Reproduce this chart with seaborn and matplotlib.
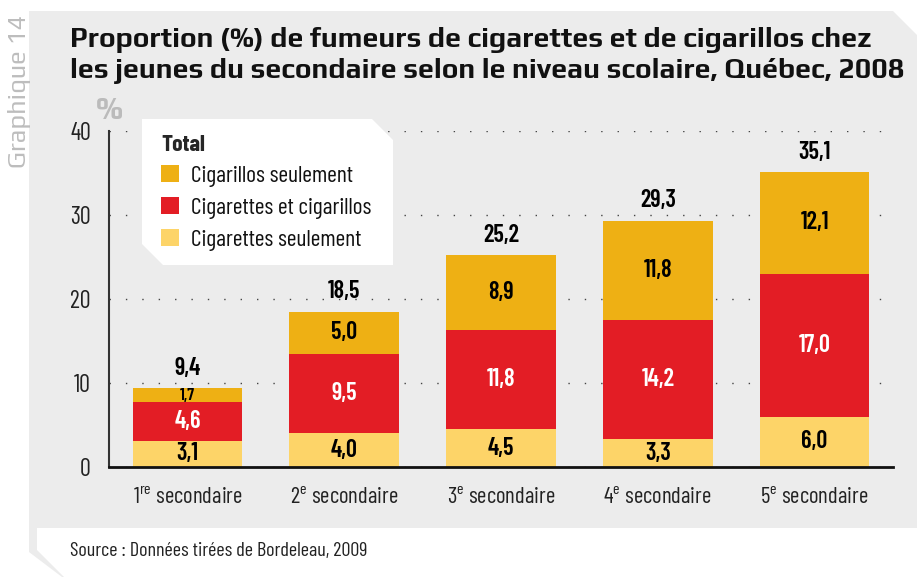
import matplotlib
matplotlib.use('Agg')
import matplotlib.pyplot as plt
import seaborn as sns
from matplotlib import font_manager
from matplotlib.patches import Polygon

# données (Bordeleau, 2009)
niveaux = ['1re', '2e', '3e', '4e', '5e']
etiquettes = [r'1$^{\mathregular{re}}$ secondaire', r'2$^{\mathregular{e}}$ secondaire',
              r'3$^{\mathregular{e}}$ secondaire', r'4$^{\mathregular{e}}$ secondaire',
              r'5$^{\mathregular{e}}$ secondaire']
cigarettes_seul = [3.1, 4.0, 4.5, 3.3, 6.0]
cigarettes_cigarillos = [4.6, 9.5, 11.8, 14.2, 17.0]
cigarillos_seul = [1.7, 5.0, 8.9, 11.8, 12.1]
totaux = [9.4, 18.5, 25.2, 29.3, 35.1]
series = ['Cigarillos seulement', 'Cigarettes et cigarillos', 'Cigarettes seulement']

jaune = '#FDD468'
rouge = '#E31D25'
orange = '#EEB014'
gris = '#ECECEC'

W, H = 920, 577


def fx(x):
    return x / W


def fy(y):
    return 1 - y / H


def premiere_dispo(liste):
    for nom in liste:
        if nom in noms:
            return nom
    return 'DejaVu Sans'


sns.set_style('white')
noms = {f.name for f in font_manager.fontManager.ttflist}
etroit = premiere_dispo(['Barlow Condensed', 'Asap Condensed', 'Liberation Sans Narrow'])
titre_font = premiere_dispo(['Play', 'Ubuntu', 'Lato'])
plt.rcParams['font.family'] = [etroit, 'DejaVu Sans']
plt.rcParams['mathtext.fontset'] = 'custom'
plt.rcParams['mathtext.rm'] = etroit

fig = plt.figure(figsize=(W / 100, H / 100), dpi=100, facecolor='white')

# fond gris et encadré de la source
fig.patches.append(Polygon([(fx(29), fy(11)), (fx(893), fy(11)), (fx(917), fy(35)), (fx(917), fy(577)),
                            (fx(62), fy(577)), (fx(29), fy(552))],
                           closed=True, transform=fig.transFigure, facecolor=gris, edgecolor='none', zorder=0))
fig.patches.append(Polygon([(fx(37), fy(528)), (fx(917), fy(528)), (fx(917), fy(577)),
                            (fx(64), fy(577)), (fx(37), fy(550))],
                           closed=True, transform=fig.transFigure, facecolor='white', edgecolor='none', zorder=0))

ax = fig.add_axes([fx(109), 1 - 467 / H, (893 - 109) / W, (467 - 131) / H])
ax.set_zorder(2)
ax.patch.set_alpha(0)

# barres empilées : on superpose les cumuls, du plus haut au plus bas
bas = cigarettes_seul
milieu = [a + b for a, b in zip(cigarettes_seul, cigarettes_cigarillos)]
haut = [a + b for a, b in zip(milieu, cigarillos_seul)]
for valeurs, couleur, nom in zip([haut, milieu, bas], [orange, rouge, jaune], series):
    sns.barplot(x=niveaux, y=valeurs, color=couleur, saturation=1, width=0.7,
                errorbar=None, label=nom, linewidth=0, ax=ax, zorder=2)
poignees, noms_leg = ax.get_legend_handles_labels()
if ax.get_legend() is not None:
    ax.get_legend().remove()

ax.set_ylim(0, 40)
ax.set_xlim(-0.5, 4.5)
ax.set_yticks([0, 10, 20, 30, 40])
ax.set_xticks(range(len(niveaux)), etiquettes)
ax.tick_params(axis='y', length=0, pad=13, labelsize=17.5, labelcolor='#222222')
ax.tick_params(axis='x', length=0, pad=15, labelsize=16.5, labelcolor='#222222')
ax.set_xlabel('')
ax.set_ylabel('')
ax.yaxis.grid(True, linestyle=(0, (1, 10.8)), linewidth=1, color='#444444')
ax.set_axisbelow(True)
sns.despine(ax=ax)
ax.spines['left'].set_color('#333333')
ax.spines['left'].set_linewidth(1.5)
ax.spines['bottom'].set_color('#111111')
ax.spines['bottom'].set_linewidth(2)
ax.spines['bottom'].set_zorder(3)


def fr(v):
    return f'{v:.1f}'.replace('.', ',')


for i in range(len(niveaux)):
    segments = [(0, cigarettes_seul[i], 'black'),
                (bas[i], cigarettes_cigarillos[i], 'white'),
                (milieu[i], cigarillos_seul[i], 'black')]
    for debut, h, coul in segments:
        taille = 12.5 if h < 2.5 else 17.5
        ax.text(i, debut + h / 2, fr(h), ha='center', va='center', color=coul,
                fontsize=taille, fontweight='semibold', zorder=4)
    ax.annotate(fr(totaux[i]), (i, haut[i]), xytext=(0, 14.4), textcoords='offset points',
                ha='center', va='center', fontsize=17.5, fontweight='semibold', color='black')

# légende dans un encadré blanc à coins coupés
fig.patches.append(Polygon([(fx(142), fy(119)), (fx(372), fy(119)), (fx(393), fy(140)), (fx(393), fy(265)),
                            (fx(163), fy(265)), (fx(142), fy(244))],
                           closed=True, transform=fig.transFigure, facecolor='white', edgecolor='none', zorder=3))
leg = fig.legend(poignees, noms_leg, loc='upper left', bbox_to_anchor=(fx(161), fy(135)), frameon=False,
                 title='Total', alignment='left', fontsize=17, handlelength=0.76, handleheight=0.76,
                 handletextpad=0.5, labelspacing=0.42, borderpad=0, borderaxespad=0,
                 labelcolor='#111111',
                 title_fontproperties={'weight': 'bold', 'size': 17, 'family': [etroit, 'DejaVu Sans']})
leg.set_zorder(5)

# titres et textes
t1 = fig.text(fx(70), fy(47), 'Proportion (%) de fumeurs de cigarettes et de cigarillos chez',
              fontsize=18, fontweight='bold', family=[titre_font, 'DejaVu Sans'], color='#111111', va='baseline')
t2 = fig.text(fx(70), fy(78), 'les jeunes du secondaire selon le niveau scolaire, Québec, 2008',
              fontsize=18, fontweight='bold', family=[titre_font, 'DejaVu Sans'], color='#111111', va='baseline')
g14 = fig.text(fx(20), fy(91), 'Graphique 14', rotation=90, ha='center', va='center', fontsize=16,
               family=[titre_font, 'DejaVu Sans'], color='#BDBDBD')
fig.text(fx(109), fy(111), '%', ha='center', va='center', fontsize=23, fontweight='bold',
         family=[titre_font, 'DejaVu Sans'], color='#BBBBBB')
fig.text(fx(70), fy(551), 'Source : Données tirées de Bordeleau, 2009', va='center', fontsize=14.5,
         color='#222222')

# ajuste la taille du titre et du libellé vertical à la largeur de la référence
rendu = fig.canvas.get_renderer()
largeur = t1.get_window_extent(renderer=rendu).width
for t in (t1, t2):
    t.set_fontsize(t.get_fontsize() * 805 / largeur)
longueur = g14.get_window_extent(renderer=rendu).height
g14.set_fontsize(g14.get_fontsize() * 153 / longueur)

fig.savefig('out.png', dpi=100, facecolor='white')
